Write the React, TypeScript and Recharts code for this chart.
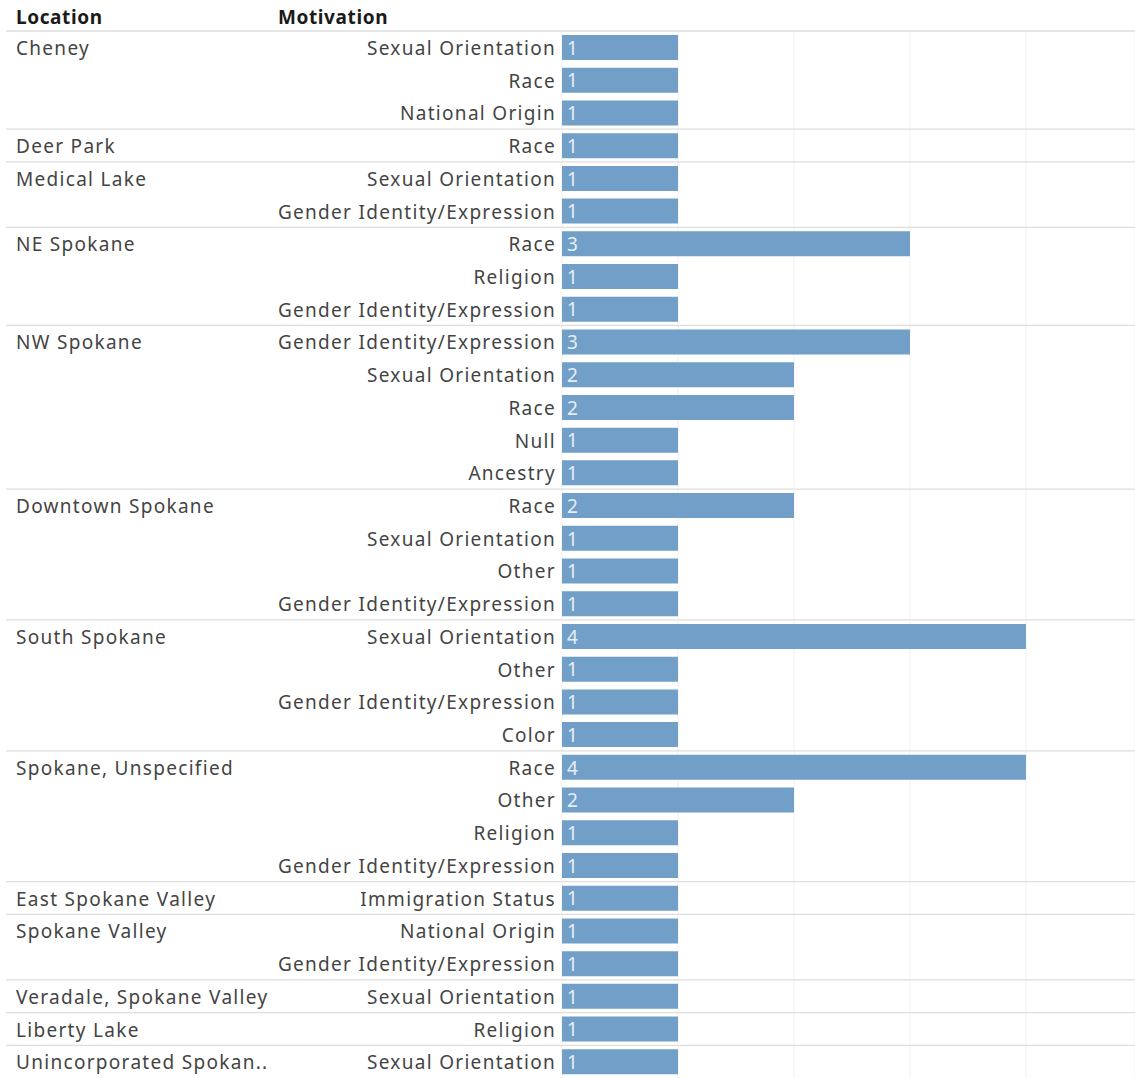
import { BarChart, Bar, XAxis, YAxis, CartesianGrid, LabelList } from "recharts";

const locations = [
  "Cheney",
  "Deer Park",
  "Medical Lake",
  "NE Spokane",
  "NW Spokane",
  "Downtown Spokane",
  "South Spokane",
  "Spokane, Unspecified",
  "East Spokane Valley",
  "Spokane Valley",
  "Veradale, Spokane Valley",
  "Liberty Lake",
  "Unincorporated Spokan..",
];

const motivations = [
  ["Sexual Orientation", "Race", "National Origin"],
  ["Race"],
  ["Sexual Orientation", "Gender Identity/Expression"],
  ["Race", "Religion", "Gender Identity/Expression"],
  ["Gender Identity/Expression", "Sexual Orientation", "Race", "Null", "Ancestry"],
  ["Race", "Sexual Orientation", "Other", "Gender Identity/Expression"],
  ["Sexual Orientation", "Other", "Gender Identity/Expression", "Color"],
  ["Race", "Other", "Religion", "Gender Identity/Expression"],
  ["Immigration Status"],
  ["National Origin", "Gender Identity/Expression"],
  ["Sexual Orientation"],
  ["Religion"],
  ["Sexual Orientation"],
];

const counts = [
  [1, 1, 1],
  [1],
  [1, 1],
  [3, 1, 1],
  [3, 2, 2, 1, 1],
  [2, 1, 1, 1],
  [4, 1, 1, 1],
  [4, 2, 1, 1],
  [1],
  [1, 1],
  [1],
  [1],
  [1],
];

const xTicks = [1, 2, 3, 4];

const rows = locations.flatMap((loc, g) =>
  motivations[g].map((m, i) => ({
    key: `${g}-${i}`,
    location: i === 0 ? loc : "",
    first: i === 0,
    motivation: m,
    count: counts[g][i],
  }))
);

const W = 1135;
const H = 1078;
const TOP = 31;
const LEFT = 562;
const BAND = (H - TOP) / rows.length;
const FONT = "'Noto Sans', sans-serif";
const BAR = "#719fc8";
const TEXT = "#444";

const RowTick = (props: any) => {
  const { y, index } = props;
  const row = rows[index];
  if (!row) return null;
  return (
    <g>
      {row.first && (
        <line x1={6} x2={W} y1={y - BAND / 2} y2={y - BAND / 2} stroke="#dedede" strokeWidth={1.3} />
      )}
      {row.location && (
        <text x={16} y={y} dy="0.4em" fontSize={19} letterSpacing={1.3} fill={TEXT} fontFamily={FONT}>
          {row.location}
        </text>
      )}
      <text x={LEFT - 6} y={y} dy="0.4em" textAnchor="end" fontSize={19} letterSpacing={1.3} fill={TEXT} fontFamily={FONT}>
        {row.motivation}
      </text>
    </g>
  );
};

const CountLabel = (props: any) => {
  const { x, y, height, value } = props;
  return (
    <text x={x + 5} y={y + height / 2} dy="0.38em" fontSize={19} fill="#e6eef6" fontFamily={FONT}>
      {value}
    </text>
  );
};

const headStyle = {
  position: "absolute" as const,
  top: 4,
  fontFamily: FONT,
  fontWeight: 700,
  fontSize: 19,
  letterSpacing: 0.6,
  color: "#1a1a1a",
};

export default function App() {
  return (
    <div style={{ position: "absolute", left: 0, top: 0, width: W, height: H, background: "#fff" }}>
      <div style={{ ...headStyle, left: 16 }}>Location</div>
      <div style={{ ...headStyle, left: 278 }}>Motivation</div>
      <BarChart
        width={W}
        height={H}
        data={rows}
        layout="vertical"
        margin={{ top: TOP, right: 0, left: 0, bottom: 0 }}
      >
        <CartesianGrid horizontal={false} vertical stroke="#f0f0f0" />
        <XAxis type="number" domain={[0, 4.94]} ticks={xTicks} hide />
        <YAxis
          type="category"
          dataKey="key"
          width={LEFT}
          interval={0}
          axisLine={false}
          tickLine={false}
          tick={<RowTick />}
        />
        <Bar dataKey="count" fill={BAR} barSize={25} isAnimationActive={false}>
          <LabelList dataKey="count" content={<CountLabel />} />
        </Bar>
      </BarChart>
    </div>
  );
}
